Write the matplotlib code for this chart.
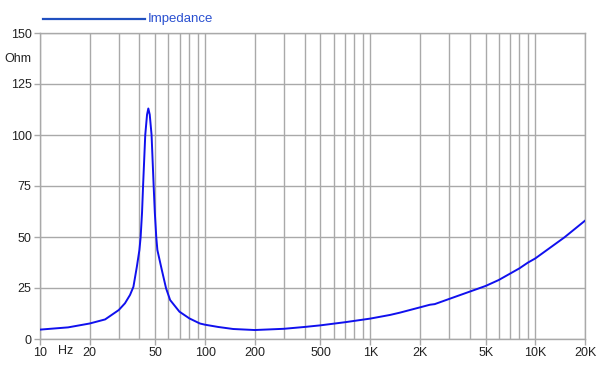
import numpy as np
import matplotlib
matplotlib.use("Agg")
import matplotlib.pyplot as plt
from matplotlib.lines import Line2D
import matplotlib.transforms as mtransforms

plt.rcParams['font.family'] = ['Liberation Sans', 'DejaVu Sans']

# impedance curve (Hz, Ohm)
freq = [10, 14.8, 20, 24.8, 30, 32.7, 35.1, 36.8, 38.6, 40.0, 40.7, 41.5, 42.1, 43.4, 44.5,
        45.3, 46.2, 47.4, 48.8, 49.6, 50.6, 51.4, 54.7, 58.0, 61.4, 69.9, 80.3, 93, 100, 120,
        148, 200, 300, 400, 500, 700, 1000, 1320, 1510, 2000, 2300, 2460, 3000,
        4000, 5000, 6000, 8000, 9000, 10000, 15000, 20000]
ohm = [4.6, 5.7, 7.6, 9.6, 14.2, 17.5, 21.6, 25.6, 35.4, 43.6, 50.0, 62.0, 75.0, 100.0, 110.0,
       113.0, 110.0, 100.0, 75.0, 62.0, 50.0, 43.6, 33.8, 24.9, 19.1, 13.4, 10.1, 7.6, 7.0, 5.9,
       4.9, 4.4, 5.0, 5.9, 6.7, 8.2, 10.0, 11.8, 12.9, 15.5, 16.8, 17.1, 19.6,
       23.2, 26.0, 28.9, 34.6, 37.4, 39.5, 49.8, 58.0]

x_ticks = [10, 20, 50, 100, 200, 500, 1000, 2000, 5000, 10000, 20000]
x_labels = ['10', '20', '50', '100', '200', '500', '1K', '2K', '5K', '10K', '20K']
y_ticks = [0, 25, 50, 75, 100, 125, 150]

grid_x = [10, 20, 30, 40, 50, 60, 70, 80, 90, 100, 200, 300, 400, 500, 600, 700, 800, 900,
          1000, 2000, 3000, 4000, 5000, 6000, 7000, 8000, 9000, 10000, 20000]

fig = plt.figure(figsize=(6.05, 3.65), dpi=100)
ax = fig.add_axes([40/605, 1-339/365, 545/605, 306/365])

gcol = '#a9a9a9'
for g in grid_x:
    ax.axvline(g, color=gcol, lw=1.0, zorder=1)
for g in y_ticks:
    ax.axhline(g, color=gcol, lw=1.0, zorder=1)

ax.plot(freq, ohm, color='#1010ee', lw=1.4, zorder=3, solid_joinstyle='round')

ax.set_xscale('log')
ax.set_xlim(10, 20000)
ax.set_ylim(0, 150)
ax.set_xticks(x_ticks)
ax.set_xticklabels(x_labels)
ax.xaxis.set_minor_locator(matplotlib.ticker.NullLocator())
ax.set_yticks(y_ticks)
ax.tick_params(axis='both', colors=gcol, labelcolor='#222222', labelsize=9, length=4, width=1)
ax.tick_params(axis='x', pad=2)
ax.tick_params(axis='y', pad=2)
for s in ax.spines.values():
    s.set_color(gcol)
    s.set_linewidth(1.0)

# "Hz" sits on the same line as the x tick labels
trans = mtransforms.blended_transform_factory(ax.transData, ax.transAxes)
hz_trans = trans + mtransforms.ScaledTranslation(0, -6/100, fig.dpi_scale_trans)
ax.text(14.2, 0, 'Hz', transform=hz_trans, ha='center', va='top', fontsize=9, color='#222222')
ax.text(-0.015, 137.5, 'Ohm', transform=mtransforms.blended_transform_factory(ax.transAxes, ax.transData),
        ha='right', va='center', fontsize=9, color='#222222')

# legend
fig.add_artist(Line2D([43/605, 145/605], [1-19/365, 1-19/365], color='#2050c0', lw=1.6))
fig.text(148/605, 1-19/365, 'Impedance', ha='left', va='center', fontsize=9.5, color='#2a50d0')

fig.savefig('out.png', dpi=100)
